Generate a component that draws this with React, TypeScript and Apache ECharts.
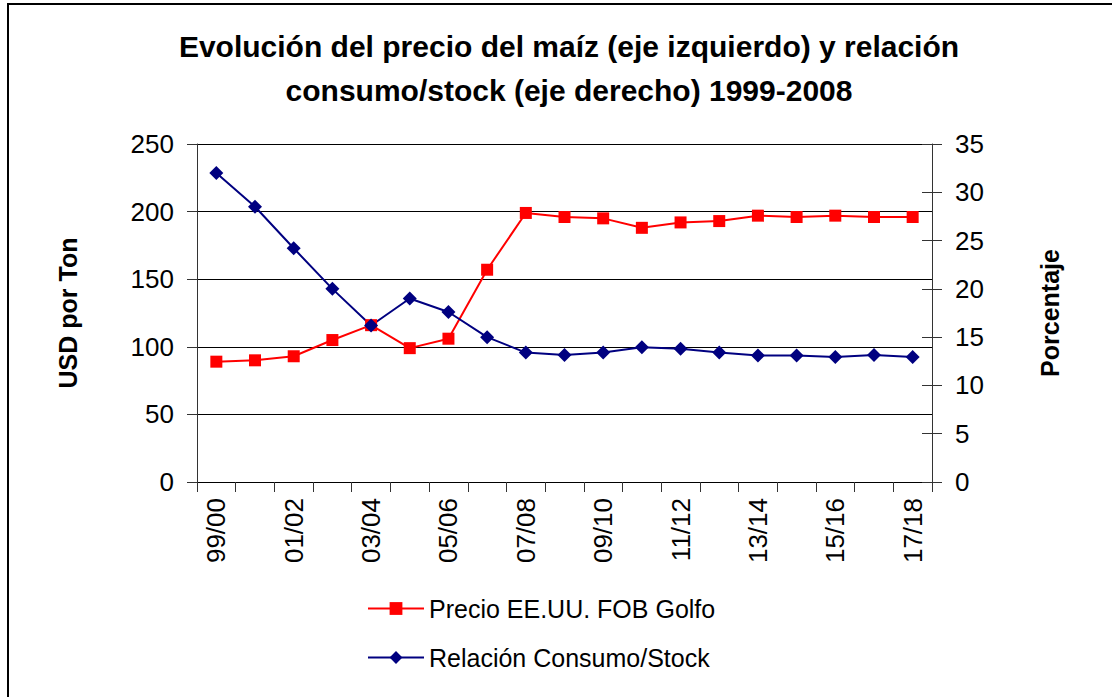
import React, { useEffect, useRef } from "react";
import * as echarts from "echarts";

const categories = [
  "99/00", "00/01", "01/02", "02/03", "03/04", "04/05", "05/06", "06/07", "07/08", "08/09",
  "09/10", "10/11", "11/12", "12/13", "13/14", "14/15", "15/16", "16/17", "17/18",
];
const precioFOB = [89, 90, 93, 105, 116, 99, 106, 157, 199, 196, 195, 188, 192, 193, 197, 196, 197, 196, 196];
const relacionCS = [32, 28.5, 24.2, 20.0, 16.2, 19.0, 17.6, 15.0, 13.4, 13.15, 13.4, 13.95, 13.8, 13.4, 13.1, 13.1, 12.95, 13.15, 12.95];

const titleText = "Evolución del precio del maíz (eje izquierdo) y relación\nconsumo/stock (eje derecho) 1999-2008";
const leftAxisName = "USD por Ton";
const rightAxisName = "Porcentaje";
const seriesNames = ["Precio EE.UU. FOB Golfo", "Relación Consumo/Stock"];

const FONT = "'Liberation Sans', Arial, sans-serif";

export default function App() {
  const ref = useRef<HTMLDivElement>(null);
  useEffect(() => {
    if (!ref.current) return;
    const chart = echarts.init(ref.current, null, { renderer: "svg" });
    chart.setOption({
      animation: false,
      backgroundColor: "#ffffff",
      textStyle: { fontFamily: FONT },
      graphic: [
        {
          type: "rect",
          shape: { x: 8, y: 4, width: 1300, height: 900 },
          style: { fill: "none", stroke: "#000", lineWidth: 2 },
          silent: true,
        },
      ],
      title: {
        text: titleText,
        left: 564,
        top: 19,
        textAlign: "center",
        textStyle: { fontFamily: FONT, fontSize: 30, fontWeight: "bold", color: "#000", lineHeight: 44 },
      },
      legend: {
        orient: "vertical",
        left: 362,
        top: 591,
        itemWidth: 56,
        itemHeight: 16,
        itemGap: 24,
        textStyle: { fontFamily: FONT, fontSize: 25, color: "#000" },
        data: seriesNames,
      },
      grid: {
        left: 197,
        right: 180,
        top: 144,
        bottom: 215,
        containLabel: false,
        outerBoundsMode: "none",
      },
      xAxis: {
        type: "category",
        data: categories,
        boundaryGap: true,
        axisLine: { lineStyle: { color: "#000", width: 1 } },
        axisTick: { show: true, interval: 0, length: 10, lineStyle: { color: "#333" } },
        axisLabel: {
          interval: 1,
          rotate: 90,
          margin: 16,
          fontFamily: FONT,
          fontSize: 26,
          color: "#000",
        },
        splitLine: { show: false },
      },
      yAxis: [
        {
          type: "value",
          min: 0,
          max: 250,
          interval: 50,
          position: "left",
          name: leftAxisName,
          nameLocation: "middle",
          nameGap: 117,
          nameRotate: 90,
          nameTextStyle: { fontFamily: FONT, fontSize: 25, fontWeight: "bold", color: "#000" },
          axisLine: { show: true, lineStyle: { color: "#333" } },
          axisTick: { show: true, length: 10, lineStyle: { color: "#333" } },
          axisLabel: { margin: 23, fontFamily: FONT, fontSize: 26, color: "#000" },
          splitLine: { show: true, lineStyle: { color: "#000", width: 1 } },
        },
        {
          type: "value",
          min: 0,
          max: 35,
          interval: 5,
          position: "right",
          name: rightAxisName,
          nameLocation: "middle",
          nameGap: 105,
          nameRotate: 90,
          nameTextStyle: { fontFamily: FONT, fontSize: 25, fontWeight: "bold", color: "#000" },
          axisLine: { show: true, lineStyle: { color: "#333" } },
          axisTick: { show: true, length: 10, lineStyle: { color: "#333" } },
          axisLabel: { margin: 23, fontFamily: FONT, fontSize: 26, color: "#000" },
          splitLine: { show: false },
        },
        {
          type: "value",
          min: 0,
          max: 35,
          interval: 5,
          position: "right",
          axisLine: { show: false },
          axisTick: { show: true, inside: true, length: 10, lineStyle: { color: "#333" } },
          axisLabel: { show: false },
          splitLine: { show: false },
        },
      ],
      series: [
        {
          name: seriesNames[0],
          type: "line",
          yAxisIndex: 0,
          data: precioFOB,
          symbol: "rect",
          symbolSize: 12,
          color: "#ff0000",
          lineStyle: { color: "#ff0000", width: 2 },
          itemStyle: { color: "#ff0000" },
        },
        {
          name: seriesNames[1],
          type: "line",
          yAxisIndex: 1,
          data: relacionCS,
          symbol: "diamond",
          symbolSize: 14,
          color: "#000080",
          lineStyle: { color: "#000080", width: 2 },
          itemStyle: { color: "#000080" },
        },
      ],
    });
    return () => chart.dispose();
  }, []);
  return (
    <div
      ref={ref}
      style={{ position: "absolute", left: 0, top: 0, width: 1112, height: 697 }}
    />
  );
}
